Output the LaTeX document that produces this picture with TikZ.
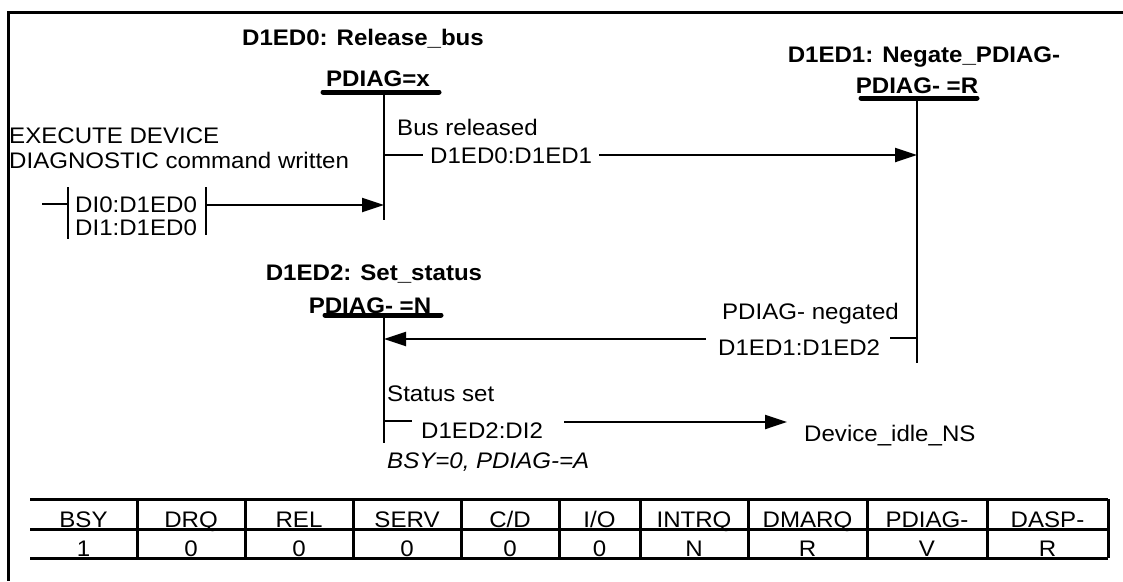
\documentclass[tikz,border=0pt]{standalone}
\usepackage{fontspec}
\setmainfont{Liberation Sans}[FakeStretch=1.07]
\usetikzlibrary{arrows.meta}
\begin{document}
\begin{tikzpicture}[x=1pt,y=-1pt,
  every node/.style={font=\fontsize{22.5}{27}\selectfont, inner sep=0pt, text height=16pt, text depth=0pt},
  ln/.style={line width=2.3pt},
  barline/.style={line width=5pt, line cap=round},
  frm/.style={line width=3pt},
  arr/.style={ln,-{Triangle[length=22pt,width=14pt]}},
  lbl/.style={anchor=west},
  ttl/.style={font=\fontsize{22.5}{27}\selectfont\bfseries},
  itl/.style={font=\fontsize{22.5}{27}\selectfont\itshape}]
\useasboundingbox (0,0) rectangle (1123,581);
% frame
\draw[frm] (1123,12) -- (8,12) -- (8,581);

% ---- state D1ED0
\node[ttl] (s0name) at (363,37) {D1ED0: Release\_bus};
\node[ttl] (s0act) at (378,78) {PDIAG=x};
\draw[barline] (323,92) -- (439,92);
\coordinate (s0top) at (384,92);
\coordinate (s0bot) at (384,220);
\draw[ln] (s0top) -- (s0bot);

% ---- state D1ED1
\node[ttl] (s1name) at (924,54) {D1ED1: Negate\_PDIAG-};
\node[ttl] (s1act) at (917,85) {PDIAG- =R};
\draw[barline] (861,98) -- (977,98);
\coordinate (s1top) at (917,98);
\coordinate (s1bot) at (917,363);
\draw[ln] (s1top) -- (s1bot);

% ---- state D1ED2
\node[ttl] (s2name) at (374,272) {D1ED2: Set\_status};
\node[ttl] (s2act) at (370,305) {PDIAG- =N};
\draw[barline] (325,315) -- (441,315);
\coordinate (s2top) at (384,315);
\coordinate (s2bot) at (384,443);
\draw[ln] (s2top) -- (s2bot);

% ---- entry transition DI0/DI1 -> D1ED0
\node[anchor=west] (ex1) at (9,135) {EXECUTE DEVICE};
\node[anchor=west] (ex2) at (9,160) {DIAGNOSTIC command written};
\draw[ln] (68,187) -- (68,239);
\draw[ln] (42,204) -- (68,204);
\node[lbl] (di0) at (75,204) {DI0:D1ED0};
\node[lbl] (di1) at (75,227) {DI1:D1ED0};
\draw[ln] (206,187) -- (206,235);
\coordinate (diout) at (206,205);
\draw[arr] (diout) -- (diout -| s0top);

% ---- D1ED0 -> D1ED1
\node[lbl] (c01) at (397,127) {Bus released};
\draw[ln] (384,155) -- (423,155);
\node[lbl, inner xsep=7pt] (t01) at (423,155) {D1ED0:D1ED1};
\draw[arr] (t01.east) -- (t01.east -| s1top);

% ---- D1ED1 -> D1ED2
\node[anchor=east] (c12) at (899,311) {PDIAG- negated};
\draw[ln] (917,338) -- (890,338);
\node[lbl] (t12) at (718,347) {D1ED1:D1ED2};
\coordinate (t12l) at (706,339);
\draw[arr] (t12l) -- (t12l -| s2top);

% ---- D1ED2 -> Device_idle_NS
\node[lbl] (c2i) at (387,393) {Status set};
\draw[ln] (384,421) -- (412,421);
\node[lbl] (t2i) at (421,430) {D1ED2:DI2};
\node[lbl] (idle) at (804,433) {Device\_idle\_NS};
\coordinate (t2ir) at (564,422);
\coordinate (t2itip) at (787,422);
\draw[arr] (t2ir) -- (t2itip);
\node[lbl, itl] (act2) at (387,460) {BSY=0, PDIAG-=A};

% ---- signal table
\draw[frm] (30,499) -- (1108,499);
\draw[frm] (30,529) -- (1108,529);
\draw[frm] (30,558) -- (1108,558);
\foreach \x in {137,245,353,461,559,640,748,867,987,1108}
  \draw[frm] (\x,499) -- (\x,558);
\foreach \c/\h/\v [count=\i] in {83.5/BSY/1, 191/DRQ/0, 299/REL/0, 407/SERV/0, 510/C\slash D/0,
    599.5/I\slash O/0, 694/INTRQ/N, 807.5/DMARQ/R, 927/PDIAG-/V, 1047.5/DASP-/R} {
  \node[anchor=base] (h\i) at (\c,527) {\h};
  \node[anchor=base] (v\i) at (\c,556) {\v};
}
\end{tikzpicture}
\end{document}
